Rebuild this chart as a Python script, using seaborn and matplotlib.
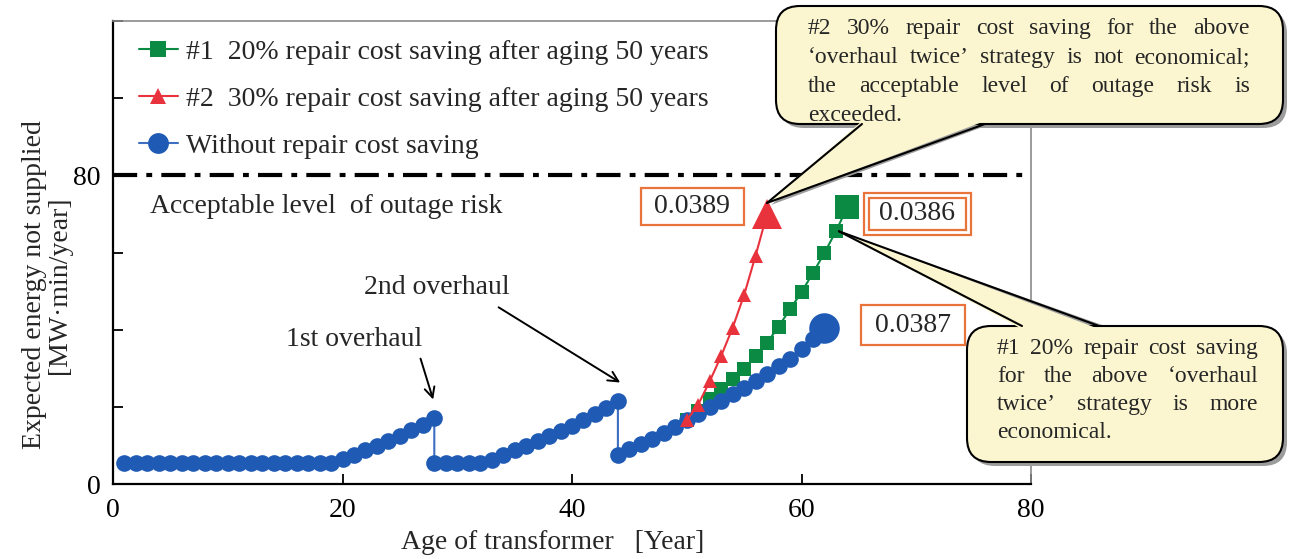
import matplotlib
matplotlib.use("Agg")
import matplotlib.pyplot as plt
import seaborn as sns
from matplotlib.lines import Line2D
from matplotlib.patches import FancyBboxPatch, Polygon

# ---- data ----
# without repair cost saving (two overhauls at year 28 and 44)
base_years = list(range(1, 29)) + list(range(28, 45)) + list(range(44, 63))
base_eens = [
    5.5, 5.5, 5.5, 5.5, 5.5, 5.5, 5.5, 5.5, 5.5, 5.5,
    5.5, 5.5, 5.5, 5.5, 5.5, 5.5, 5.5, 5.5, 5.5, 6.4,
    7.5, 8.7, 9.9, 11.1, 12.4, 13.9, 15.4, 17.0,
    5.5, 5.5, 5.5, 5.5, 5.5, 6.3, 7.5, 8.7, 9.8, 11.1,
    12.4, 13.7, 15.0, 16.5, 18.1, 19.8, 21.6,
    7.5, 9.0, 10.3, 11.7, 13.2, 14.9, 16.5, 18.2, 19.9, 21.5,
    23.2, 24.9, 26.6, 28.4, 30.5, 32.5, 34.9, 37.5, 40.5,
]
# #1 20% repair cost saving after aging 50 years
s20_years = list(range(50, 65))
s20_eens = [16.5, 19.0, 22.0, 24.5, 27.1, 29.7, 33.2, 36.6, 40.8, 45.3,
            49.7, 54.7, 59.9, 65.5, 71.8]
# #2 30% repair cost saving after aging 50 years
s30_years = list(range(50, 58))
s30_eens = [16.5, 20.6, 26.6, 33.2, 40.5, 49.0, 59.2, 70.0]

risk_limit = 80
labels = ["#1  20% repair cost saving after aging 50 years",
          "#2  30% repair cost saving after aging 50 years",
          "Without repair cost saving"]
end_values = ["0.0386", "0.0389", "0.0387"]

blue = "#1f5bb5"
green = "#0b8a43"
red = "#e8323c"
orange = "#e8743b"
cream = "#fbf6cf"

sns.set_theme(style="ticks")
plt.rcParams["font.family"] = ["Liberation Serif", "DejaVu Serif"]

W, H = 1294, 559
fig = plt.figure(figsize=(W / 100, H / 100), dpi=100)
ax = fig.add_axes([113 / W, 1 - 484 / H, 918 / W, 463 / H])

# series
sns.lineplot(x=s20_years, y=s20_eens, ax=ax, estimator=None, sort=False,
             color=green, lw=1.5, marker="s", markersize=9.5, markeredgewidth=0,
             zorder=3)
sns.lineplot(x=base_years, y=base_eens, ax=ax, estimator=None, sort=False,
             color="#3d6ec2", lw=1.5, marker="o", markersize=12,
             markerfacecolor=blue, markeredgewidth=0, zorder=4)
sns.lineplot(x=s30_years, y=s30_eens, ax=ax, estimator=None, sort=False,
             color=red, lw=1.5, marker="^", markersize=10, markeredgewidth=0,
             zorder=5)
# bigger end markers
ax.plot(s20_years[-1], s20_eens[-1], "s", color=green, ms=17, mew=0, zorder=6)
ax.plot(base_years[-1], base_eens[-1], "o", color=blue, ms=22, mew=0, zorder=6)
ax.plot(s30_years[-1], s30_eens[-1], "^", color=red, ms=22, mew=0, zorder=6)

# acceptable level
ax.axhline(risk_limit, color="black", lw=3, dashes=(5.8, 2.2, 1.4, 2.2), zorder=2)
ax.text(3.2, 72.0, "Acceptable level  of outage risk", fontsize=20, va="center")

ax.set_xlim(0, 80)
ax.set_ylim(0, 120)
ax.set_xticks([0, 20, 40, 60, 80])
ax.set_yticks([0, 20, 40, 60, 80, 100, 120])
ax.set_yticklabels(["0", "", "", "", "80", "", ""])
ax.tick_params(direction="in", length=7, width=1.3, labelsize=20, colors="black")
ax.tick_params(axis="x", pad=10)
ax.tick_params(axis="y", pad=9)
for s in ["left", "bottom"]:
    ax.spines[s].set_color("black")
    ax.spines[s].set_linewidth(1.6)
for s in ["top", "right"]:
    ax.spines[s].set_color("#8a8a8a")
    ax.spines[s].set_linewidth(1.2)

ax.set_xlabel("Age of transformer   [Year]", fontsize=20)
ax.xaxis.set_label_coords(0.479, -0.10)
ax.set_ylabel("Expected energy not supplied\n[MW\u00b7min/year]", fontsize=20,
              linespacing=1.0)
ax.yaxis.set_label_coords(-0.045, 0.43)

handles = [
    Line2D([], [], color=green, lw=1.5, marker="s", ms=11, mew=0),
    Line2D([], [], color=red, lw=1.5, marker="^", ms=12, mew=0),
    Line2D([], [], color="#3d6ec2", lw=1.5, marker="o", ms=15,
           markerfacecolor=blue, mew=0),
]
ax.legend(handles, labels, loc="upper left", bbox_to_anchor=(0.028, 0.96),
          frameon=False, fontsize=20, handlelength=1.4, handletextpad=0.3,
          labelspacing=0.78, borderaxespad=0, borderpad=0)

# overhaul notes
arrow = dict(arrowstyle="->,head_length=0.6,head_width=0.3", lw=1.4,
             color="black", shrinkA=0, shrinkB=0)
ax.text(21.0, 37.5, "1st overhaul", fontsize=20, ha="center", va="center")
ax.annotate("", xy=(27.9, 21.9), xytext=(26.8, 32.5), arrowprops=arrow)
ax.text(28.2, 50.8, "2nd overhaul", fontsize=20, ha="center", va="center")
ax.annotate("", xy=(44.2, 26.3), xytext=(33.6, 45.8), arrowprops=arrow)

# value boxes
box_kw = dict(fontsize=20, ha="center", va="center", zorder=7)
ax.text(50.5, 72.0, " " + end_values[1] + " ",
        bbox=dict(boxstyle="square,pad=0.22", fc="white", ec=orange, lw=1.6),
        **box_kw)
ax.text(69.7, 41.2, " " + end_values[2] + " ",
        bbox=dict(boxstyle="square,pad=0.26", fc="white", ec=orange, lw=1.6),
        **box_kw)
ax.text(70.1, 70.0, " " + end_values[0] + " ",
        bbox=dict(boxstyle="square,pad=0.32", fc="white", ec=orange, lw=1.6),
        **box_kw)
ax.text(70.1, 70.0, " " + end_values[0] + " ",
        bbox=dict(boxstyle="square,pad=0.14", fc="white", ec=orange, lw=1.6),
        **box_kw)

# ---- callouts drawn on an overlay in pixel units (origin top-left) ----
ov = fig.add_axes([0, 0, 1, 1], zorder=10)
ov.set_xlim(0, W)
ov.set_ylim(H, 0)
ov.axis("off")
ov.patch.set_alpha(0)


def to_px(x, y):
    d = ax.transData.transform((x, y))
    return ov.transData.inverted().transform(d)


renderer = fig.canvas.get_renderer()


def justified(lines, x0, y0, width, pitch, size):
    for i, line in enumerate(lines):
        y = y0 + i * pitch
        words = line.split(" ")
        if i == len(lines) - 1 or len(words) == 1:
            ov.text(x0, y, line, fontsize=size, va="top", ha="left", zorder=5)
            continue
        widths = []
        for w in words:
            t = ov.text(0, 0, w, fontsize=size)
            widths.append(t.get_window_extent(renderer).width)
            t.remove()
        gap = (width - sum(widths)) / (len(words) - 1)
        x = x0
        for w, wd in zip(words, widths):
            ov.text(x, y, w, fontsize=size, va="top", ha="left", zorder=5)
            x += wd + gap


def callout(x0, y0, x1, y1, base, tip, side):
    shadow = FancyBboxPatch((x0 + 4, y0 + 4), x1 - x0, y1 - y0,
                            boxstyle="round,pad=0,rounding_size=24",
                            fc="#9c9c9c", ec="none", zorder=1)
    ov.add_patch(shadow)
    box = FancyBboxPatch((x0, y0), x1 - x0, y1 - y0,
                         boxstyle="round,pad=0,rounding_size=24",
                         fc=cream, ec="black", lw=1.5, zorder=2)
    ov.add_patch(box)
    edge_y = y1 if side == "bottom" else y0
    inner = edge_y - 3 if side == "bottom" else edge_y + 3
    wedge = Polygon([(base[0], inner), tip, (base[1], inner)],
                    closed=True, fc=cream, ec="none", zorder=3)
    ov.add_patch(wedge)
    # shadow of the pointer
    ov.add_patch(Polygon([(base[0] + 6, edge_y), (tip[0] + 4, tip[1] + 2),
                          (base[1] + 6, edge_y)], closed=True, fc="#9c9c9c",
                         ec="none", zorder=1.5))
    for bx in base:
        ov.plot([bx, tip[0]], [edge_y, tip[1]], color="black", lw=1.5, zorder=4)


tip2 = to_px(s30_years[-1], s30_eens[-1])
callout(776, 6, 1283, 124, (862, 985), (tip2[0], tip2[1] - 11), "bottom")
justified(["#2 30% repair cost saving for the above",
           "\u2018overhaul twice\u2019 strategy is not economical;",
           "the acceptable level of outage risk is",
           "exceeded."], 808, 18, 442, 29, 17)

tip1 = to_px(s20_years[-2], s20_eens[-2])
callout(967, 326, 1283, 462, (1022, 1099), (tip1[0] + 3, tip1[1]), "top")
justified(["#1 20% repair cost saving",
           "for the above \u2018overhaul",
           "twice\u2019 strategy is more",
           "economical."], 997, 338, 261, 28, 17)

fig.savefig("out.png", dpi=100)
